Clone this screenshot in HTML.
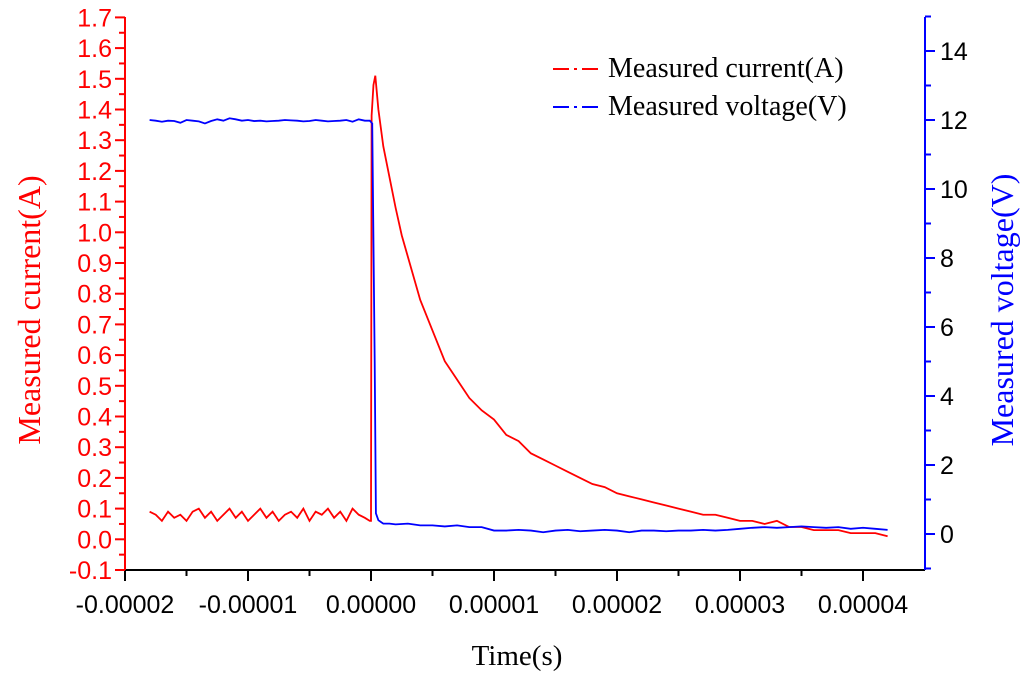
<!DOCTYPE html>
<html><head><meta charset="utf-8"><style>
body{margin:0;background:#fff;}
svg{display:block;font-family:"Liberation Sans",sans-serif;}
</style></head><body>
<svg id="chart" width="1024" height="675"></svg>
<script>
const timesBase=[-18,-17.5,-17,-16.5,-16,-15.5,-15,-14.5,-14,-13.5,-13,-12.5,-12,-11.5,-11,-10.5,-10,-9.5,-9,-8.5,-8,-7.5,-7,-6.5,-6,-5.5,-5,-4.5,-4,-3.5,-3,-2.5,-2,-1.5,-1,-0.5,-0.1];
const currentBase=[0.09,0.08,0.06,0.09,0.07,0.08,0.06,0.09,0.10,0.07,0.09,0.06,0.08,0.10,0.07,0.09,0.06,0.08,0.10,0.07,0.09,0.06,0.08,0.09,0.07,0.10,0.06,0.09,0.08,0.10,0.07,0.09,0.06,0.10,0.08,0.07,0.06];
const voltageBase=[12,11.98,11.95,11.98,11.97,11.92,12,11.98,11.96,11.9,11.97,12.02,11.98,12.05,12.02,11.98,12,11.97,11.98,11.96,11.97,11.98,12,11.99,11.98,11.96,11.97,12,11.98,11.96,11.97,11.98,12,11.95,12.02,11.98,11.98];
const timesCur=[0,0.05,0.2,0.35,0.6,1,1.5,2,2.5,3,3.5,4,5,6,7,8,9,10,11,12,13,14,15,16,17,18,19,20,21,22,23,24,25,26,27,28,29,30,31,32,33,34,35,36,37,38,39,40,41,42];
const currentDecay=[0.06,1.38,1.48,1.51,1.40,1.28,1.18,1.08,0.99,0.92,0.85,0.78,0.68,0.58,0.52,0.46,0.42,0.39,0.34,0.32,0.28,0.26,0.24,0.22,0.20,0.18,0.17,0.15,0.14,0.13,0.12,0.11,0.10,0.09,0.08,0.08,0.07,0.06,0.06,0.05,0.06,0.04,0.04,0.03,0.03,0.03,0.02,0.02,0.02,0.01];
const timesVolt=[0.1,0.3,0.4,0.6,1,1.5,2,3,4,5,6,7,8,9,10,11,12,13,14,15,16,17,18,19,20,21,22,23,24,25,26,27,28,29,30,31,32,33,34,35,36,37,38,39,40,41,42];
const voltageDecay=[11.9,5,0.6,0.4,0.3,0.3,0.28,0.3,0.25,0.25,0.22,0.25,0.2,0.2,0.1,0.1,0.12,0.1,0.05,0.1,0.12,0.08,0.1,0.12,0.1,0.05,0.1,0.1,0.08,0.1,0.1,0.12,0.1,0.12,0.15,0.18,0.2,0.18,0.2,0.22,0.2,0.18,0.2,0.15,0.18,0.15,0.12];
const xTicks=["-0.00002","-0.00001","0.00000","0.00001","0.00002","0.00003","0.00004"];
const yLeftTicks=["-0.1","0.0","0.1","0.2","0.3","0.4","0.5","0.6","0.7","0.8","0.9","1.0","1.1","1.2","1.3","1.4","1.5","1.6","1.7"];
const yRightTicks=["0","2","4","6","8","10","12","14"];

const NS="http://www.w3.org/2000/svg";
const svg=document.getElementById('chart');
const L=125,R=925,T=17,B=570;
const xs=t=>L+(t+20)*12.3;
const yl=v=>539.3-v*307.0;
const yr=v=>534-v*34.5;
function mk(tag,attrs,parent){const e=document.createElementNS(NS,tag);for(const k in attrs)e.setAttribute(k,attrs[k]);(parent||svg).appendChild(e);return e;}

let e;
e=mk('line',{x1:L,y1:B,x2:R,y2:B,stroke:'#000','stroke-width':2});


e=mk('line',{x1:L,y1:T,x2:L,y2:B,stroke:'#f00','stroke-width':2});


e=mk('line',{x1:R,y1:T,x2:R,y2:B,stroke:'#00f','stroke-width':2});



xTicks.forEach((lab,i)=>{
  const x=xs(-20+i*10);
  mk('line',{x1:x,y1:B,x2:x,y2:B+11,stroke:'#000','stroke-width':2});
  if(i<xTicks.length-1){const xm=xs(-15+i*10);mk('line',{x1:xm,y1:B,x2:xm,y2:B+6,stroke:'#000','stroke-width':2});}
  e=mk('text',{x:x,y:B+43,'text-anchor':'middle','font-size':25,fill:'#000'});e.textContent=lab;
  
  
});
yLeftTicks.forEach((lab,i)=>{
  const y=yl(-0.1+i*0.1);
  mk('line',{x1:L-10,y1:y,x2:L,y2:y,stroke:'#f00','stroke-width':2});
  if(i<yLeftTicks.length-1){const ym=yl(-0.05+i*0.1);mk('line',{x1:L-6,y1:ym,x2:L,y2:ym,stroke:'#f00','stroke-width':2});}
  e=mk('text',{x:L-13,y:y+9,'text-anchor':'end','font-size':25,fill:'#f00'});e.textContent=lab;
  
  
});
yRightTicks.forEach((lab,i)=>{
  const y=yr(i*2);
  mk('line',{x1:R,y1:y,x2:R+10,y2:y,stroke:'#00f','stroke-width':2});
  const ym=yr(i*2-1);if(ym<=B)mk('line',{x1:R,y1:ym,x2:R+6,y2:ym,stroke:'#00f','stroke-width':2});
  e=mk('text',{x:R+15,y:y+9,'font-size':25,fill:'#000'});e.textContent=lab;
  
  
});
mk('line',{x1:R,y1:yr(15),x2:R+6,y2:yr(15),stroke:'#00f','stroke-width':2});

const ct=timesBase.concat(timesCur), cv=currentBase.concat(currentDecay);
e=mk('polyline',{points:ct.map((t,i)=>xs(t)+','+yl(cv[i])).join(' '),fill:'none',stroke:'#f00','stroke-width':1.8});


const vt=timesBase.concat(timesVolt), vv=voltageBase.concat(voltageDecay);
e=mk('polyline',{points:vt.map((t,i)=>xs(t)+','+yr(vv[i])).join(' '),fill:'none',stroke:'#00f','stroke-width':1.8});



[['#f00','Measured current(A)',69],['#00f','Measured voltage(V)',107]].forEach(([c,t,y],i)=>{
  const g=mk('g',{});
  
  
  mk('line',{x1:553,y1:y,x2:602,y2:y,stroke:c,'stroke-width':2,'stroke-dasharray':'16,5,3,5'},g);
  const tx=mk('text',{x:608,y:y+8,'font-size':28,'font-family':'"Liberation Serif",serif',fill:'#000'},g);tx.textContent=t;
});

e=mk('text',{x:517,y:665,'text-anchor':'middle','font-size':29,'font-family':'"Liberation Serif",serif',fill:'#000'});e.textContent='Time(s)';


e=mk('text',{x:0,y:0,'text-anchor':'middle','font-size':32,'font-family':'"Liberation Serif",serif',fill:'#f00',transform:'translate(40,310) rotate(-90)'});e.textContent='Measured current(A)';


e=mk('text',{x:0,y:0,'text-anchor':'middle','font-size':32,'font-family':'"Liberation Serif",serif',fill:'#00f',transform:'translate(1013,310) rotate(-90)'});e.textContent='Measured voltage(V)';


</script>
</body></html>
